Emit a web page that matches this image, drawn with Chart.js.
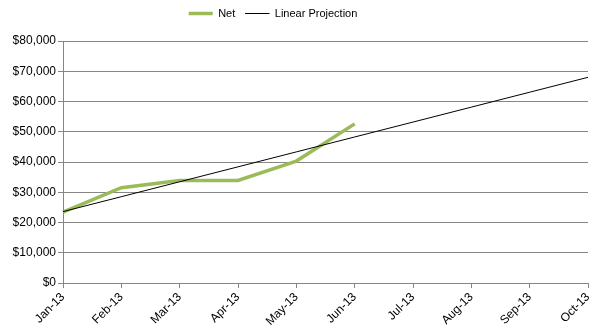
<!DOCTYPE html>
<html>
<head>
<meta charset="utf-8">
<script src="https://cdn.jsdelivr.net/npm/chart.js@4/dist/chart.umd.min.js"></script>
<style>
  html, body { margin: 0; padding: 0; background: #fff; }
  #wrap { width: 602px; height: 333px; }
</style>
</head>
<body>
<div id="wrap"><canvas id="c" width="602" height="333"></canvas></div>
<script>
const categories = ["Jan-13","Feb-13","Mar-13","Apr-13","May-13","Jun-13","Jul-13","Aug-13","Sep-13","Oct-13"];
const netValues = [23400, 31500, 33900, 33900, 40300, 52600];
const projectionValues = [23600, 28530, 33470, 38400, 43340, 48270, 53200, 58140, 63070, 68000];
const yTicks = [0, 10000, 20000, 30000, 40000, 50000, 60000, 70000, 80000];

const FONT = "'Liberation Sans', Arial, sans-serif";
const GRID = '#868686';

const legendTweak = {
  id: 'legendTweak',
  beforeLayout(chart) {
    const lg = chart.legend;
    if (lg && !lg._tweaked) {
      const f = lg.fit;
      lg.fit = function () { f.call(this); this.height += 10; };
      lg._tweaked = true;
    }
  },
  afterLayout(chart) {
    const lg = chart.legend;
    if (lg) { lg.right = lg.right - 42; lg.top = lg.top - 2; }
  }
};

new Chart(document.getElementById('c'), {
  type: 'line',
  data: {
    labels: categories,
    datasets: [
      { label: 'Net', data: netValues, borderColor: '#9BBB59', backgroundColor: '#9BBB59',
        borderWidth: 3.5, pointRadius: 0, tension: 0, fill: false, order: 1 },
      { label: 'Linear Projection', data: projectionValues, borderColor: '#000000', backgroundColor: '#000000',
        borderWidth: 1, pointRadius: 0, tension: 0, fill: false, order: 0 }
    ]
  },
  plugins: [legendTweak],
  options: {
    responsive: false,
    animation: false,
    devicePixelRatio: 1,
    layout: { padding: { left: 0, right: 14, top: 0, bottom: 0 } },
    plugins: {
      legend: {
        position: 'top',
        align: 'center',
        labels: { font: { family: FONT, size: 11 }, color: '#000', boxWidth: 24, boxHeight: 0, padding: 10,
          sort: (a, b) => a.datasetIndex - b.datasetIndex }
      },
      tooltip: { enabled: false }
    },
    scales: {
      x: {
        offset: false,
        grid: { drawOnChartArea: false, drawTicks: true, tickLength: 5, tickColor: GRID, offset: false },
        border: { color: GRID, width: 1 },
        ticks: { font: { family: FONT, size: 12 }, color: '#000', minRotation: 45, maxRotation: 45, autoSkip: false, padding: 2 },
        afterFit: s => { s.height = 50; }
      },
      y: {
        min: 0, max: 80000,
        afterBuildTicks: s => { s.ticks = yTicks.map(v => ({ value: v })); },
        grid: { color: GRID, lineWidth: 1, tickLength: 5, tickColor: GRID },
        border: { color: GRID, width: 1 },
        ticks: { font: { family: FONT, size: 12 }, color: '#000', padding: 2,
          callback: v => '$' + Number(v).toLocaleString('en-US') },
        afterFit: s => { s.width = 63; }
      }
    }
  }
});
</script>
</body>
</html>
